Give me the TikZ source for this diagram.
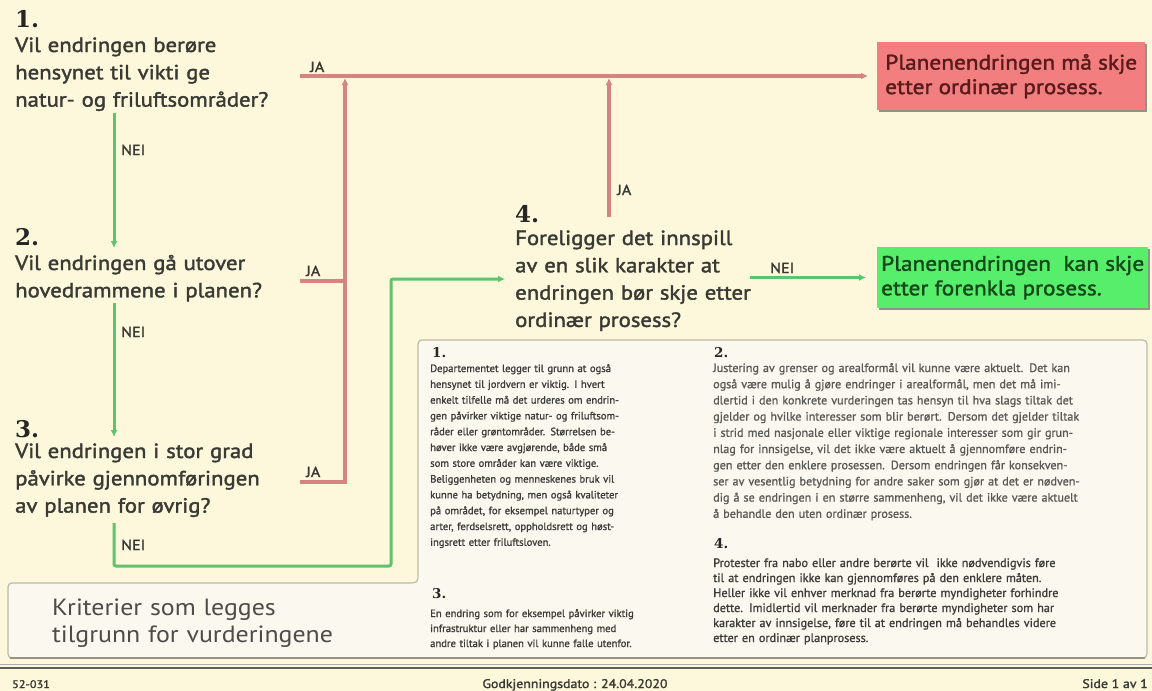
\documentclass[tikz,border=0pt]{standalone}
\usepackage{fontspec}
\setmainfont{PT Sans}
\newfontfamily\qfont{PT Sans}[FakeBold=1.8, FakeStretch=1.11]
\newfontfamily\wfont{PT Sans}[FakeStretch=1.1]
\newfontfamily\pfont{PT Sans}[FakeBold=1.2]
\newfontfamily\numfont{DejaVu Serif}
\usetikzlibrary{arrows.meta,shadows}
\definecolor{bg}{HTML}{FDF8DB}
\definecolor{panelbg}{HTML}{FBF8EF}
\definecolor{panelline}{HTML}{BDB9A8}
\definecolor{qcol}{HTML}{3A3A35}
\definecolor{txtA}{HTML}{3C3C38}
\definecolor{txtB}{HTML}{5A5A55}
\definecolor{redline}{HTML}{D68482}
\definecolor{greenline}{HTML}{5CC46C}
\definecolor{redfill}{HTML}{F27E80}
\definecolor{redtext}{HTML}{5A1B1B}
\definecolor{greenfill}{HTML}{56EE6A}
\definecolor{greentext}{HTML}{134A1A}
\definecolor{footline}{HTML}{5E5E58}
\begin{document}
\begin{tikzpicture}[x=1pt,y=-1pt,
  qtext/.style={anchor=base west, inner sep=0pt, text width=#1, align=left,
    font=\qfont\fontsize{20.5}{27.3}\selectfont, text=qcol},
  qnum/.style={anchor=base west, inner sep=0pt, font=\numfont\bfseries\fontsize{23}{23}\selectfont, text=black!85},
  pnum/.style={anchor=base west, inner sep=0pt, font=\numfont\bfseries\fontsize{13.5}{13.5}\selectfont, text=black!85},
  lbl/.style={anchor=base west, inner sep=0pt, font=\qfont\fontsize{14.5}{14.5}\selectfont, text=qcol},
  coltext/.style={anchor=base west, inner sep=0pt, text width=#1, align=left},
  redl/.style={draw=redline, line width=3.2pt},
  greenl/.style={draw=greenline, line width=3pt},
  tip/.style={-{Latex[length=7pt,width=7pt]}},
  resbox/.style={anchor=north west, inner xsep=0pt, inner ysep=0pt, align=left,
    font=\qfont\fontsize{21}{24.5}\selectfont,
    drop shadow={shadow xshift=1.5pt,shadow yshift=-1.8pt,fill=black!60,opacity=.7}},
]
\useasboundingbox (0,0) rectangle (1152,691);
\fill[bg] (0,0) rectangle (1152,691);

% panel
\draw[panelline, fill=panelbg, line width=1.2pt, rounded corners=4pt]
  (8,583) -- (403,583) .. controls (418,583) .. (418,568) -- (418,340)
  -- (1147,340) -- (1147,658) -- (8,658) -- cycle;
\draw[panelline!80!black, line width=1.6pt] (10,658) -- (1145,658);

% footer
\draw[footline, line width=2.2pt] (0,668) -- (1152,668);
\draw[footline!50, line width=0.8pt] (0,664.5) -- (1152,664.5);
\node[anchor=base west, inner sep=0pt, font=\qfont\fontsize{11}{11}\selectfont, text=qcol] (f1) at (12,688) {52-031};
\node[anchor=base, inner sep=0pt, font=\qfont\fontsize{12.5}{12.5}\selectfont, text=qcol] (f2) at (575,688) {Godkjenningsdato : 24.04.2020};
\node[anchor=base east, inner sep=0pt, font=\qfont\fontsize{12.5}{12.5}\selectfont, text=qcol] (f3) at (1148,688) {Side 1 av 1};

% question numbers
\node[qnum] (n1) at (15,27) {1.};
\node[qnum] (n2) at (15,245) {2.};
\node[qnum] (n3) at (15,437) {3.};
\node[qnum] (n4) at (515,222) {4.};

% questions
\node[qtext=300pt] (q1) at (15,52) {Vil endringen berøre\\hensynet til vikti ge\\natur- og friluftsområder?};
\node[qtext=300pt] (q2) at (15,270) {Vil endringen gå utover\\hovedrammene i planen?};
\node[qtext=300pt] (q3) at (15,458) {Vil endringen i stor grad\\påvirke gjennomføringen\\av planen for øvrig?};
\node[qtext=260pt] (q4) at (515,245) {Foreligger det innspill\\av en slik karakter at\\endringen bør skje etter\\ordinær prosess?};

% result boxes
\node[resbox, fill=redfill, text=redtext, minimum width=268pt, minimum height=68pt] (ordinaer) at (877,42)
  {Planenendringen må skje\\etter ordinær prosess.};
\node[resbox, fill=greenfill, text=greentext, minimum width=271pt, minimum height=61pt] (forenkla) at (877,247)
  {Planenendringen\ \ kan skje\\etter forenkla prosess.};

% coordinates
\coordinate (ja1s) at (300,76);
\coordinate (j1) at (345,78);
\coordinate (j4) at (609,78);
\coordinate (ja2s) at (300,281);
\coordinate (ja2e) at (346,281);
\coordinate (ja3s) at (300,482);
\coordinate (c3) at (345,482);
\coordinate (q4top) at (609,217);
\coordinate (nei1s) at (114,113);
\coordinate (nei1e) at (114,248);
\coordinate (nei2s) at (114,303);
\coordinate (nei2e) at (114,437);
\coordinate (nei3s) at (114,523);
\coordinate (g1) at (114,566);
\coordinate (g2) at (391,566);
\coordinate (g3) at (391,279);
\coordinate (g4) at (505,279);
\coordinate (nei4s) at (750,277.5);

% red connectors
\draw[redl, tip, shorten >=9pt] (ja1s) -- (ja1s -| ordinaer.west);
\draw[redl] (ja2s) -- (ja2e);
\draw[redl, tip] (ja3s) -- (c3) -- (j1);
\draw[redl, tip] (q4top) -- (j4);

% green connectors
\draw[greenl, tip] (nei1s) -- (nei1e);
\draw[greenl, tip] (nei2s) -- (nei2e);
\draw[greenl, tip, rounded corners=2pt] (nei3s) -- (g1) -- (g2) -- (g3) -- (g4);
\draw[greenl, tip, shorten >=11pt] (nei4s) -- (nei4s -| forenkla.west);

% labels
\node[lbl] (lja1) at (310,72) {JA};
\node[lbl] (lja2) at (306,276) {JA};
\node[lbl] (lja3) at (306,477) {JA};
\node[lbl] (lja4) at (617,195) {JA};
\node[lbl] (lnei1) at (121,155) {NEI};
\node[lbl] (lnei2) at (121,337) {NEI};
\node[lbl] (lnei3) at (121,550) {NEI};
\node[lbl] (lnei4) at (770,273) {NEI};

% bottom-left caption
\node[anchor=base west, inner sep=0pt, text width=340pt, align=left,
  font=\wfont\fontsize{23.5}{27}\selectfont, text=txtB!85!black] (kriterier) at (52,615)
  {Kriterier som legges\\tilgrunn for vurderingene};

% panel texts
\node[pnum] (p1) at (432,357) {1.};
\node[coltext=270pt, font=\pfont\fontsize{10.6}{15.8}\selectfont, text=txtA] (t1) at (430,372)
{Departementet legger til grunn at også\\
hensynet til jordvern er viktig. I hvert\\
enkelt tilfelle må det urderes om endrin-\\
gen påvirker viktige natur- og friluftsom-\\
råder eller grøntområder. Størrelsen be-\\
høver ikke være avgjørende, både små\\
som store områder kan være viktige.\\
Beliggenheten og menneskenes bruk vil\\
kunne ha betydning, men også kvaliteter\\
på området, for eksempel naturtyper og\\
arter, ferdselsrett, oppholdsrett og høst-\\
ingsrett etter friluftsloven.};

\node[pnum] (p3) at (432,598) {3.};
\node[coltext=270pt, font=\pfont\fontsize{10.6}{15}\selectfont, text=txtA] (t3) at (430,617)
{En endring som for eksempel påvirker viktig\\
infrastruktur eller har sammenheng med\\
andre tiltak i planen vil kunne falle utenfor.};

\node[pnum] (p2) at (714,357) {2.};
\node[coltext=440pt, font=\pfont\fontsize{12.1}{16.2}\selectfont, text=txtB] (t2) at (713,372)
{Justering av grenser og arealformål vil kunne være aktuelt. Det kan\\
også være mulig å gjøre endringer i arealformål, men det må imi-\\
dlertid i den konkrete vurderingen tas hensyn til hva slags tiltak det\\
gjelder og hvilke interesser som blir berørt. Dersom det gjelder tiltak\\
i strid med nasjonale eller viktige regionale interesser som gir grun-\\
nlag for innsigelse, vil det ikke være aktuelt å gjennomføre endrin-\\
gen etter den enklere prosessen. Dersom endringen får konsekven-\\
ser av vesentlig betydning for andre saker som gjør at det er nødven-\\
dig å se endringen i en større sammenheng, vil det ikke være aktuelt\\
å behandle den uten ordinær prosess.};

\node[pnum] (p4) at (714,548) {4.};
\node[coltext=440pt, font=\pfont\fontsize{12.2}{15}\selectfont, text=txtA] (t4) at (713,567)
{Protester fra nabo eller andre berørte vil\ \ ikke nødvendigvis føre\\
til at endringen ikke kan gjennomføres på den enklere måten.\\
Heller ikke vil enhver merknad fra berørte myndigheter forhindre\\
dette. Imidlertid vil merknader fra berørte myndigheter som har\\
karakter av innsigelse, føre til at endringen må behandles videre\\
etter en ordinær planprosess.};
\end{tikzpicture}
\end{document}
